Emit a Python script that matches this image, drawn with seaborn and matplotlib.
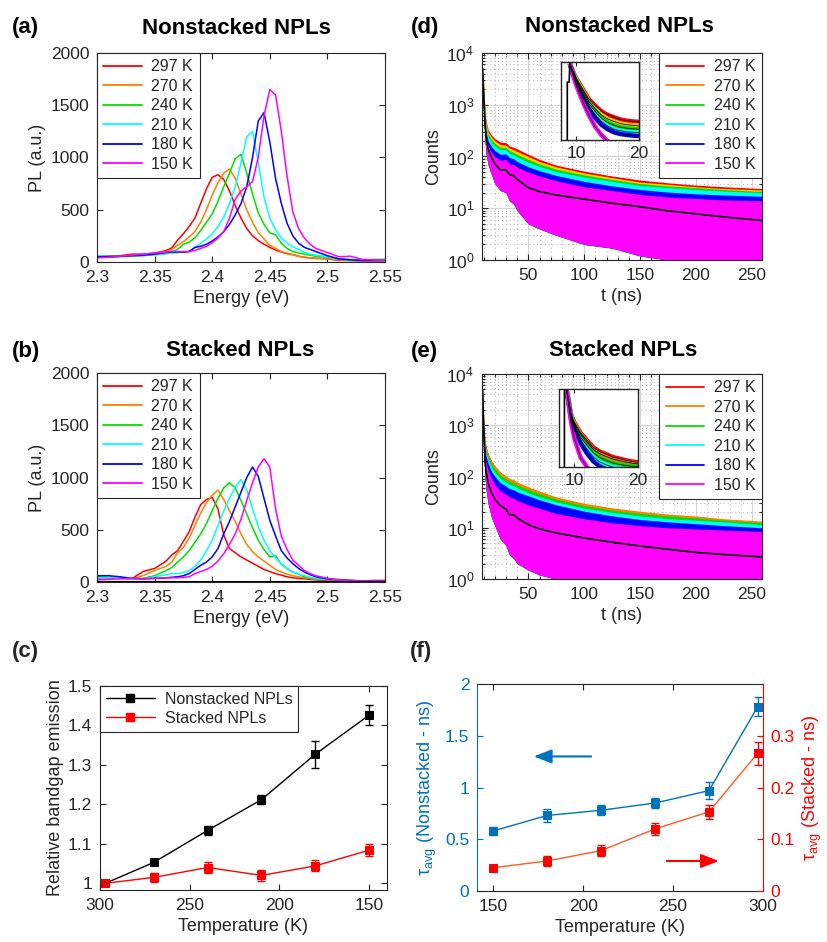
import matplotlib
matplotlib.use('Agg')
import numpy as np
import pandas as pd
import matplotlib.pyplot as plt
import seaborn as sns
from matplotlib.lines import Line2D
from matplotlib.ticker import FuncFormatter, MultipleLocator, LogLocator, NullLocator, NullFormatter

# ---------------------------------------------------------------- data
temps = ['297 K', '270 K', '240 K', '210 K', '180 K', '150 K']
colors = ['#FF0000', '#FF8000', '#00E000', '#00FFFF', '#0000FF', '#FF00FF']
band_colors_d = ['#FF0000', '#FFD000', '#00E000', '#00FFFF', '#0000FF', '#FF00FF']
band_colors_e = ['#FF0000', '#FF8000', '#00E000', '#00FFFF', '#0000FF', '#FF00FF']

energy = [2.30, 2.31, 2.32, 2.33, 2.34, 2.35, 2.36, 2.365, 2.37, 2.375, 2.38, 2.385, 2.39, 2.395,
          2.40, 2.405, 2.41, 2.415, 2.42, 2.425, 2.43, 2.435, 2.44, 2.445, 2.45, 2.455, 2.46, 2.465,
          2.47, 2.475, 2.48, 2.485, 2.49, 2.50, 2.51, 2.52, 2.53, 2.54, 2.55]

# (a) nonstacked PL spectra
pl_ns_297 = [55, 60, 60, 75, 75, 85, 110, 135, 210, 270, 340, 420, 560, 700, 810, 835, 790, 680, 540,
             420, 320, 250, 205, 170, 140, 115, 95, 80, 70, 55, 45, 40, 35, 30, 15, 15, 10, 10, 10]
pl_ns_270 = [50, 50, 55, 65, 75, 85, 100, 120, 160, 195, 240, 290, 380, 500, 640, 760, 850, 890, 800,
             650, 500, 380, 280, 220, 160, 130, 100, 85, 70, 55, 45, 40, 35, 30, 20, 15, 12, 10, 10]
pl_ns_240 = [45, 45, 50, 55, 60, 70, 80, 95, 120, 170, 190, 230, 300, 380, 460, 580, 720, 850, 990,
             1030, 850, 650, 470, 360, 280, 260, 180, 130, 100, 85, 75, 65, 55, 45, 30, 25, 20, 25, 25]
pl_ns_210 = [60, 55, 55, 60, 65, 70, 80, 85, 90, 95, 100, 140, 180, 220, 270, 340, 430, 560, 720,
             950, 1200, 1250, 950, 620, 420, 310, 230, 180, 145, 120, 95, 75, 65, 50, 30, 20, 15, 15, 15]
pl_ns_180 = [50, 50, 55, 60, 65, 75, 90, 95, 95, 95, 100, 140, 150, 170, 200, 240, 290, 360, 450,
             560, 720, 1000, 1350, 1430, 1150, 800, 560, 370, 250, 180, 140, 120, 100, 60, 30, 20, 15, 15, 15]
pl_ns_150 = [40, 45, 55, 65, 75, 85, 95, 100, 100, 100, 100, 110, 130, 150, 185, 230, 290, 420, 600,
             680, 720, 770, 1000, 1400, 1650, 1600, 1250, 820, 480, 320, 230, 170, 130, 90, 50, 55, 25, 20, 15]

# (b) stacked PL spectra
pl_st_297 = [35, 30, 40, 30, 100, 130, 200, 260, 300, 390, 480, 620, 740, 790, 810, 700, 450, 320, 280,
             240, 210, 180, 150, 120, 100, 80, 65, 50, 40, 35, 30, 25, 20, 15, 20, 10, 10, 15, 15]
pl_st_270 = [40, 40, 35, 30, 60, 110, 150, 190, 280, 330, 420, 540, 660, 760, 830, 880, 790, 680, 580,
             460, 360, 290, 240, 200, 160, 120, 95, 75, 60, 50, 40, 35, 25, 20, 25, 10, 10, 10, 10]
pl_st_240 = [50, 45, 40, 30, 35, 60, 110, 140, 190, 240, 300, 380, 460, 560, 680, 800, 900, 950, 900,
             780, 650, 520, 400, 310, 240, 250, 170, 130, 95, 75, 50, 40, 30, 25, 20, 15, 10, 10, 10]
pl_st_210 = [40, 40, 35, 30, 30, 50, 70, 80, 80, 90, 110, 150, 210, 300, 400, 540, 680, 800, 910,
             980, 880, 700, 530, 400, 300, 230, 175, 130, 95, 75, 60, 45, 35, 25, 20, 15, 10, 15, 10]
pl_st_180 = [60, 60, 50, 35, 30, 35, 40, 45, 50, 60, 80, 120, 160, 190, 240, 320, 460, 580, 720,
             860, 1000, 1100, 1010, 800, 590, 440, 300, 230, 175, 130, 95, 70, 50, 30, 20, 15, 10, 10, 10]
pl_st_150 = [20, 25, 30, 35, 30, 35, 40, 40, 40, 45, 50, 80, 100, 120, 150, 200, 270, 360, 460,
             600, 780, 950, 1100, 1180, 1100, 700, 440, 310, 210, 160, 110, 80, 60, 35, 20, 15, 10, 10, 10]

# (c) relative bandgap emission
temp_c = [297, 270, 240, 210, 180, 150]
rel_nonstacked = [1.000, 1.053, 1.134, 1.212, 1.327, 1.426]
rel_nonstacked_err = [0.004, 0.006, 0.011, 0.011, 0.034, 0.026]
rel_stacked = [1.000, 1.015, 1.040, 1.020, 1.044, 1.084]
rel_stacked_err = [0.004, 0.012, 0.013, 0.013, 0.014, 0.015]

# (d)/(e) decay curves: upper envelopes of noisy traces, noise floor and fit (black)
t_decay = [9, 10, 11, 12, 14, 17, 20, 25, 30, 33, 37, 40, 50, 60, 75, 100, 125, 150, 175, 200, 225, 259]
dec_ns_297 = [5000, 2500, 1000, 500, 330, 260, 220, 190, 185, 160, 150, 140, 110, 88, 68, 52, 42, 35, 31, 28, 26, 24]
dec_ns_270 = [4600, 2200, 900, 450, 300, 235, 200, 170, 165, 145, 135, 125, 100, 80, 63, 48, 39, 32, 29, 26, 24, 22.5]
dec_ns_240 = [4300, 2000, 800, 400, 270, 210, 180, 150, 150, 130, 120, 110, 88, 72, 57, 44, 36, 30, 27, 25, 23, 21]
dec_ns_210 = [4000, 1800, 700, 350, 240, 185, 160, 135, 135, 115, 108, 98, 78, 64, 51, 40, 33, 27.5, 25, 23, 21.5, 20]
dec_ns_180 = [3800, 1600, 600, 300, 200, 155, 130, 110, 112, 95, 90, 80, 63, 53, 43, 33, 27, 23, 20.5, 19, 18, 17]
dec_ns_150 = [3500, 1400, 500, 250, 160, 120, 100, 85, 88, 72, 70, 62, 50, 42, 34, 26, 22, 18.5, 16.5, 15.5, 14.5, 14]
floor_ns = [2000, 700, 250, 120, 70, 45, 30, 22, 20, 14, 12, 9, 5, 4, 3, 2, 1.7, 1.2, 1, 1, 1, 1]
fit_ns = [5000, 1500, 500, 250, 140, 95, 72, 55, 55, 45, 42, 36, 25, 21, 18, 15, 12.5, 10.7, 8.9, 7.8, 6.8, 5.8]

dec_st_297 = [5000, 1500, 600, 400, 280, 200, 160, 120, 100, 90, 85, 76, 60, 50, 38, 28, 23, 20, 17.5, 16, 14.5, 12.5]
dec_st_270 = [5000, 1400, 580, 380, 270, 200, 160, 122, 102, 92, 87, 78, 63, 52, 40, 30, 24.5, 21, 18.5, 17, 15, 13.5]
dec_st_240 = [4500, 1300, 520, 340, 240, 175, 140, 105, 90, 80, 76, 68, 56, 46, 36, 27, 22, 19, 17, 15.5, 14, 12.5]
dec_st_210 = [4200, 1200, 480, 300, 210, 150, 120, 90, 78, 70, 66, 60, 48, 40, 32, 24, 20, 17, 15, 14, 13, 11.5]
dec_st_180 = [4000, 1100, 420, 260, 180, 125, 100, 75, 65, 58, 55, 50, 42, 35, 28, 21, 17, 14.5, 13, 12, 11, 10]
dec_st_150 = [3500, 900, 330, 200, 130, 90, 70, 52, 45, 40, 38, 34, 28, 24, 19, 15, 12.5, 11, 10, 9.5, 9, 8.5]
floor_st = [1500, 300, 120, 60, 30, 16, 11, 6, 4.5, 3, 2.5, 2, 1.5, 1.2, 1, 1, 1, 1, 1, 1, 1, 1]
fit_st = [5000, 800, 250, 130, 75, 48, 36, 27, 23, 18, 18, 15.5, 11.5, 9.5, 7.9, 6.3, 5.2, 4.4, 3.8, 3.3, 3.0, 2.7]

# insets (early decay)
t_in_d = [9.0, 9.5, 10, 11, 12, 13, 14, 15, 16, 17, 18, 19, 20]
in_ns_297 = [5600, 4000, 3000, 1900, 1200, 900, 700, 600, 540, 490, 465, 450, 440]
in_ns_270 = [5600, 3900, 2850, 1750, 1080, 790, 600, 500, 450, 410, 390, 380, 370]
in_ns_240 = [5600, 3800, 2700, 1600, 980, 700, 520, 430, 380, 350, 335, 325, 320]
in_ns_210 = [5600, 3700, 2550, 1450, 880, 610, 450, 370, 320, 300, 285, 280, 275]
in_ns_180 = [5600, 3600, 2400, 1300, 780, 530, 390, 320, 280, 260, 250, 242, 237]
in_ns_150 = [5600, 3400, 2200, 1100, 600, 360, 250, 190, 165, 150, 140, 135, 130]
rise_ns_t = [8.6, 8.6, 8.9, 9.0]
rise_ns_c = [100, 2500, 2500, 5600]

t_in_e = [8.8, 9.5, 10, 11, 12, 13, 14, 15, 16, 17, 18, 19, 20]
in_st_297 = [5800, 1960, 1400, 880, 640, 470, 390, 350, 310, 290, 270, 255, 245]
in_st_270 = [5800, 1900, 1330, 820, 590, 430, 355, 315, 285, 265, 250, 237, 228]
in_st_240 = [5800, 1800, 1220, 730, 510, 370, 300, 265, 240, 225, 215, 208, 203]
in_st_210 = [5800, 1700, 1100, 640, 430, 310, 250, 220, 200, 190, 180, 175, 170]
in_st_180 = [5800, 1600, 1000, 560, 360, 255, 205, 180, 165, 155, 150, 145, 140]
in_st_150 = [5800, 1400, 700, 300, 200, 150, 120, 100, 90, 85, 80, 78, 75]
rise_st_t = [8.45, 8.45, 8.8]
rise_st_c = [100, 7000, 5800]

# (f) average lifetimes
temp_f = [150, 180, 210, 240, 270, 297]
tau_nonstacked = [0.58, 0.73, 0.78, 0.85, 0.97, 1.78]
tau_nonstacked_err = [0.04, 0.06, 0.05, 0.05, 0.08, 0.09]
tau_stacked = [0.045, 0.058, 0.078, 0.120, 0.153, 0.266]
tau_stacked_err = [0.005, 0.010, 0.010, 0.011, 0.014, 0.022]

# ---------------------------------------------------------------- style
sns.set_theme(style='ticks')
plt.rcParams['font.family'] = ['Liberation Sans', 'DejaVu Sans']
plt.rcParams['mathtext.fontset'] = 'custom'
plt.rcParams['mathtext.rm'] = 'Liberation Sans'
plt.rcParams['mathtext.it'] = 'Liberation Sans:italic'
plt.rcParams['mathtext.default'] = 'regular'

INK = '#262626'
TICK_FS = 12.5
LAB_FS = 13
LEG_FS = 11.5
TITLE_FS = 16
PAD = 5.5
XLPAD = 4

W, H = 827, 942
fig = plt.figure(figsize=(W / 100, H / 100), dpi=100)


def box(x0, y0, x1, y1):
    return [x0 / W, 1 - y1 / H, (x1 - x0) / W, (y1 - y0) / H]


gfmt = FuncFormatter(lambda v, p: f'{round(v, 4):g}')


def style(ax, color=INK):
    ax.tick_params(which='both', direction='in', top=True, right=True, colors=color,
                   labelsize=TICK_FS, width=0.8, pad=PAD)
    ax.tick_params(which='major', length=4)
    ax.tick_params(which='minor', length=2)
    for s in ax.spines.values():
        s.set_color(color)
        s.set_linewidth(0.8)


def temp_legend(ax, loc):
    handles = [Line2D([0], [0], color=c, lw=1.3) for c in colors]
    leg = ax.legend(handles, temps, loc=loc, borderaxespad=0, frameon=True, fancybox=False,
                    edgecolor=INK, fontsize=LEG_FS, handlelength=2.4, labelspacing=0.28,
                    borderpad=0.4, handletextpad=0.6, framealpha=1)
    leg.get_frame().set_linewidth(0.8)
    for t in leg.get_texts():
        t.set_color(INK)


def spectra_panel(ax, series, title, label, title_xy, label_xy):
    frames = [pd.DataFrame({'Energy': energy, 'PL': vals, 'T': lab}) for lab, vals in zip(temps, series)]
    df = pd.concat(frames, ignore_index=True)
    sns.lineplot(data=df, x='Energy', y='PL', hue='T', hue_order=temps, palette=colors,
                 estimator=None, sort=False, linewidth=1.1, legend=False, ax=ax)
    ax.set_xlim(2.3, 2.55)
    ax.set_ylim(0, 2000)
    ax.set_xticks([2.3, 2.35, 2.4, 2.45, 2.5, 2.55])
    ax.set_yticks([0, 500, 1000, 1500, 2000])
    ax.xaxis.set_major_formatter(gfmt)
    ax.set_xlabel('Energy (eV)', fontsize=LAB_FS, color=INK, labelpad=XLPAD)
    ax.set_ylabel('PL (a.u.)', fontsize=LAB_FS, color=INK, labelpad=3)
    style(ax)
    temp_legend(ax, 'upper left')
    fig.text(title_xy[0] / W, 1 - title_xy[1] / H, title, ha='center', va='center',
             fontsize=TITLE_FS, fontweight='bold', color='black')
    fig.text(label_xy[0] / W, 1 - label_xy[1] / H, label, ha='left', va='center',
             fontsize=TITLE_FS, fontweight='bold', color='black')


def decay_panel(ax, ins, uppers, floor, fit, band_cols, ins_t, ins_series, rise_t, rise_c,
                title, label, title_xy, label_xy):
    for up, c in zip(uppers, band_cols):
        ax.fill_between(t_decay, floor, up, color=c, lw=0)
    ax.plot(t_decay, fit, color='black', lw=1.2)
    ax.set_yscale('log')
    ax.set_xlim(8.5, 259)
    ax.set_ylim(1, 1e4)
    ax.set_xticks([50, 100, 150, 200, 250])
    ax.xaxis.set_minor_locator(MultipleLocator(10))
    ax.yaxis.set_major_locator(LogLocator(base=10, numticks=10))
    ax.yaxis.set_minor_locator(LogLocator(base=10, subs=np.arange(2, 10), numticks=20))
    ax.yaxis.set_minor_formatter(NullFormatter())
    ax.grid(True, which='major', color='#d4d4d4', lw=0.8)
    ax.grid(True, which='minor', color='#bdbdbd', lw=0.8, ls=(0, (1, 2.5)))
    ax.set_axisbelow(True)
    ax.set_xlabel('t (ns)', fontsize=LAB_FS, color=INK, labelpad=XLPAD)
    ax.set_ylabel('Counts', fontsize=LAB_FS, color=INK, labelpad=3)
    style(ax)
    temp_legend(ax, 'upper right')
    fig.text(title_xy[0] / W, 1 - title_xy[1] / H, title, ha='center', va='center',
             fontsize=TITLE_FS, fontweight='bold', color='black')
    fig.text(label_xy[0] / W, 1 - label_xy[1] / H, label, ha='left', va='center',
             fontsize=TITLE_FS, fontweight='bold', color='black')

    # inset
    ins.set_facecolor('white')
    for vals, c in zip(ins_series, band_cols):
        ins.plot(ins_t, vals, color=c, lw=3.2, solid_capstyle='butt')
    for vals in ins_series:
        ins.plot(ins_t, vals, color='black', lw=0.6)
    ins.plot(rise_t, rise_c, color='black', lw=1.2)
    ins.set_yscale('log')
    ins.set_xlim(7.6, 20)
    ins.set_ylim(200, 6000)
    ins.set_xticks([10, 20])
    ins.yaxis.set_major_locator(NullLocator())
    ins.yaxis.set_minor_locator(NullLocator())
    ins.tick_params(which='both', direction='in', top=True, right=True, colors=INK,
                    labelsize=TICK_FS, length=3, width=0.8, pad=4)
    for s in ins.spines.values():
        s.set_color(INK)
        s.set_linewidth(1.0)


# ---------------------------------------------------------------- panels
ax_a = fig.add_axes(box(97, 53, 385, 262))
ax_b = fig.add_axes(box(97, 373, 385, 582))
ax_c = fig.add_axes(box(100, 686, 387, 890))
ax_d = fig.add_axes(box(482, 53, 762, 260))
ax_e = fig.add_axes(box(482, 374, 762, 579))
ax_f = fig.add_axes(box(477, 684, 763, 891))
in_d = fig.add_axes(box(561, 62, 639, 140))
in_e = fig.add_axes(box(559, 389, 638, 467))

spectra_panel(ax_a, [pl_ns_297, pl_ns_270, pl_ns_240, pl_ns_210, pl_ns_180, pl_ns_150],
              'Nonstacked NPLs', '(a)', (236, 29), (12, 28))
spectra_panel(ax_b, [pl_st_297, pl_st_270, pl_st_240, pl_st_210, pl_st_180, pl_st_150],
              'Stacked NPLs', '(b)', (240, 351), (12, 352))
ax_b.axhline(0, color='black', lw=2.2, zorder=5)

decay_panel(ax_d, in_d, [dec_ns_297, dec_ns_270, dec_ns_240, dec_ns_210, dec_ns_180, dec_ns_150],
            floor_ns, fit_ns, band_colors_d, t_in_d,
            [in_ns_297, in_ns_270, in_ns_240, in_ns_210, in_ns_180, in_ns_150], rise_ns_t, rise_ns_c,
            'Nonstacked NPLs', '(d)', (619, 27), (411, 28))
decay_panel(ax_e, in_e, [dec_st_297, dec_st_270, dec_st_240, dec_st_210, dec_st_180, dec_st_150],
            floor_st, fit_st, band_colors_e, t_in_e,
            [in_st_297, in_st_270, in_st_240, in_st_210, in_st_180, in_st_150], rise_st_t, rise_st_c,
            'Stacked NPLs', '(e)', (623, 351), (411, 352))

# (c)
sns.lineplot(x=temp_c, y=rel_nonstacked, color='black', lw=1.0, marker='s', markersize=6,
             markeredgecolor='black', markerfacecolor='black', sort=False, estimator=None, ax=ax_c)
sns.lineplot(x=temp_c, y=rel_stacked, color='#FF0000', lw=1.0, marker='s', markersize=6,
             markeredgecolor='#FF0000', markerfacecolor='#FF0000', sort=False, estimator=None, ax=ax_c)
ax_c.errorbar(temp_c, rel_nonstacked, yerr=rel_nonstacked_err, fmt='none', ecolor='black',
              elinewidth=1, capsize=3, capthick=1)
ax_c.errorbar(temp_c, rel_stacked, yerr=rel_stacked_err, fmt='none', ecolor='#FF0000',
              elinewidth=1, capsize=3, capthick=1)
ax_c.set_xlim(300, 140)
ax_c.set_ylim(0.983, 1.5)
ax_c.set_xticks([300, 250, 200, 150])
ax_c.set_yticks([1, 1.1, 1.2, 1.3, 1.4, 1.5])
ax_c.yaxis.set_major_formatter(gfmt)
ax_c.set_xlabel('Temperature (K)', fontsize=LAB_FS, color=INK, labelpad=XLPAD)
ax_c.set_ylabel('Relative bandgap emission', fontsize=LAB_FS, color=INK, labelpad=3)
style(ax_c)
hc = [Line2D([0], [0], color='black', lw=1, marker='s', markersize=6),
      Line2D([0], [0], color='#FF0000', lw=1, marker='s', markersize=6)]
leg = ax_c.legend(hc, ['Nonstacked NPLs', 'Stacked NPLs'], loc='upper left', borderaxespad=0,
                  frameon=True, fancybox=False, edgecolor=INK, fontsize=LEG_FS, handlelength=3.1,
                  labelspacing=0.28, borderpad=0.35, handletextpad=0.6, framealpha=1)
leg.get_frame().set_linewidth(0.8)
for t in leg.get_texts():
    t.set_color(INK)
fig.text(12 / W, 1 - 651 / H, '(c)', ha='left', va='center', fontsize=TITLE_FS, fontweight='bold')

# (f)
BLUE = '#0072BD'
RED = '#FF0000'
sns.lineplot(x=temp_f, y=tau_nonstacked, color=BLUE, lw=1.0, marker='s', markersize=6,
             markeredgecolor=BLUE, markerfacecolor=BLUE, sort=False, estimator=None, ax=ax_f)
ax_f.errorbar(temp_f, tau_nonstacked, yerr=tau_nonstacked_err, fmt='none', ecolor=BLUE,
              elinewidth=1, capsize=3, capthick=1)
ax_f.set_xlim(141, 300)
ax_f.set_ylim(0, 2)
ax_f.set_xticks([150, 200, 250, 300])
ax_f.set_yticks([0, 0.5, 1, 1.5, 2])
ax_f.yaxis.set_major_formatter(gfmt)
ax_f.set_xlabel('Temperature (K)', fontsize=LAB_FS, color=INK, labelpad=XLPAD)
ax_f.set_ylabel(r'$\tau_{avg}$ (Nonstacked - ns)', fontsize=LAB_FS, color=BLUE, labelpad=4)
ax_f.tick_params(which='both', direction='in', top=True, right=False, labelsize=TICK_FS,
                 width=0.8, length=4, colors=INK, pad=PAD)
ax_f.tick_params(axis='y', colors=BLUE)
for s in ax_f.spines.values():
    s.set_color(INK)
    s.set_linewidth(0.8)
ax_f.spines['left'].set_color(BLUE)
ax_f.spines['right'].set_visible(False)

ax_f2 = ax_f.twinx()
sns.lineplot(x=temp_f, y=tau_stacked, color='#FF5A1F', lw=1.0, marker='s', markersize=6,
             markeredgecolor=RED, markerfacecolor=RED, sort=False, estimator=None, ax=ax_f2)
ax_f2.errorbar(temp_f, tau_stacked, yerr=tau_stacked_err, fmt='none', ecolor=RED,
               elinewidth=1, capsize=3, capthick=1)
ax_f2.set_ylim(0, 0.4)
ax_f2.set_yticks([0, 0.1, 0.2, 0.3])
ax_f2.yaxis.set_major_formatter(gfmt)
ax_f2.set_ylabel(r'$\tau_{avg}$ (Stacked - ns)', fontsize=LAB_FS, color=RED, labelpad=4)
ax_f2.tick_params(axis='y', which='both', direction='in', colors=RED, labelsize=TICK_FS,
                  width=0.8, length=4, pad=PAD)
for name, s in ax_f2.spines.items():
    s.set_visible(name == 'right')
ax_f2.spines['right'].set_color(RED)
ax_f2.spines['right'].set_linewidth(0.8)

ax_f.annotate('', xy=(171, 1.30), xytext=(206, 1.30),
              arrowprops=dict(arrowstyle='-|>,head_length=0.9,head_width=0.35', color=BLUE, lw=1.5))
ax_f.annotate('', xy=(277, 0.29), xytext=(245, 0.29),
              arrowprops=dict(arrowstyle='-|>,head_length=0.9,head_width=0.35', color=RED, lw=1.5))
fig.text(410 / W, 1 - 651 / H, '(f)', ha='left', va='center', fontsize=TITLE_FS, fontweight='bold')

fig.savefig('out.png', dpi=100)
